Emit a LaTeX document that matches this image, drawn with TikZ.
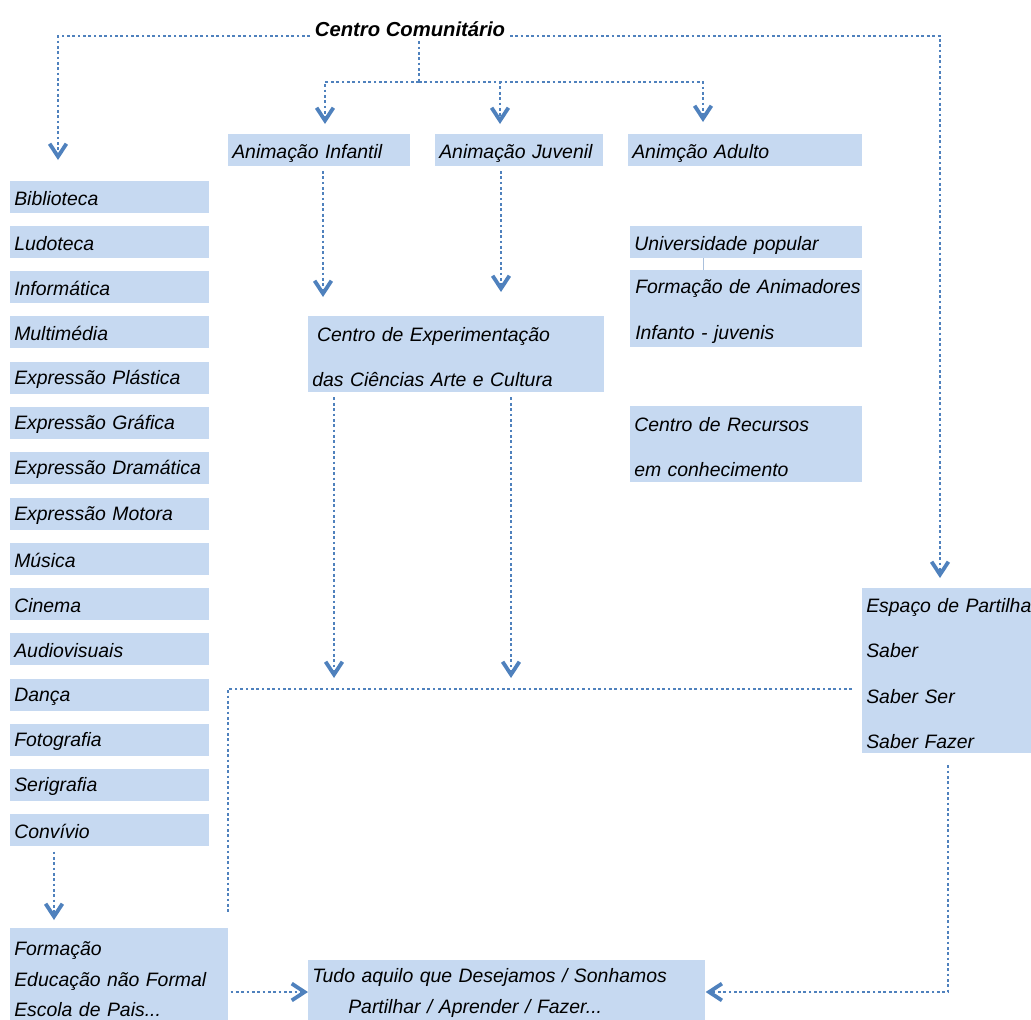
\documentclass[tikz,border=0pt]{standalone}
\usepackage{fontspec}
\setmainfont{Liberation Sans}
\usepackage{tikz}
\usetikzlibrary{arrows.meta}
\definecolor{boxfill}{RGB}{198,217,241}
\definecolor{arrowcol}{RGB}{79,129,189}
\definecolor{boxline}{RGB}{170,192,220}

\begin{document}
\begin{tikzpicture}[
  x=0.025cm, y=-0.025cm,
  font=\itshape\fontsize{13.8}{16.5}\selectfont,
  box/.style={fill=boxfill, anchor=west, align=left, inner xsep=0.1cm, inner ysep=0pt, text height=14.5pt},
  col/.style={box, text width=4.775cm, minimum height=0.8cm, text height=12.2pt},
  wide/.style={font=\itshape\fontsize{13.8}{32.4}\selectfont},
  narrow/.style={font=\itshape\fontsize{13.8}{22}\selectfont, text height=11.5pt},
  dots/.style={line width=1.8pt, color=arrowcol, dash pattern=on 1.9pt off 1.9pt},
  arr/.style={dots, -{Straight Barb[length=0.32cm, width=0.42cm, line width=2.7pt]}},
  gap/.style={shorten <=0.13cm}
]
\useasboundingbox (0,0) rectangle (1031,1019);
\clip (0,0) rectangle (1031,1019);

\node[font=\bfseries\itshape\fontsize{14.4}{17}\selectfont, anchor=base] (cc) at (410,36) {Centro Comunitário};

% coluna das actividades
\node[col] (bib)   at (10,197) {Biblioteca};
\node[col] (ludo)  at (10,242) {Ludoteca};
\node[col] (info)  at (10,287) {Informática};
\node[col] (multi) at (10,332) {Multimédia};
\node[col] (plast) at (10,378) {Expressão Plástica};
\node[col] (graf)  at (10,423) {Expressão Gráfica};
\node[col] (dram)  at (10,468) {Expressão Dramática};
\node[col] (motor) at (10,514) {Expressão Motora};
\node[col] (mus)   at (10,559) {Música};
\node[col] (cine)  at (10,604) {Cinema};
\node[col] (audio) at (10,649) {Audiovisuais};
\node[col] (danca) at (10,695) {Dança};
\node[col] (foto)  at (10,740) {Fotografia};
\node[col] (seri)  at (10,785) {Serigrafia};
\node[col] (conv)  at (10,830) {Convívio};

\node[box, text width=4.35cm, minimum height=0.78cm] (ainf) at (228,150) {Animação Infantil};
\node[box, text width=4cm,    minimum height=0.78cm] (ajuv) at (435,150) {Animação Juvenil};
\node[box, text width=5.65cm, minimum height=0.78cm] (aadu) at (628,150) {Animção Adulto};

\node[box, text width=5.6cm, minimum height=0.8cm] (univ) at (630,242) {Universidade popular};
\node[box, wide, inner xsep=0.025cm, text width=5.75cm, minimum height=1.925cm] (fanim) at (630,308.5) {\hspace*{0.1cm}Formação de Animadores\\\hspace*{0.1cm}Infanto - juvenis};
\node[box, wide, text width=5.6cm, minimum height=1.9cm] (crec) at (630,444) {Centro de Recursos\\em conhecimento};
\node[box, wide, text width=7.2cm, minimum height=1.9cm] (cea) at (308,354) {\hspace*{0.12cm}Centro de Experimentação\\das Ciências Arte e Cultura};
\node[box, wide, text width=5cm, minimum height=4.125cm] (esp) at (862,670.5) {Espaço de Partilha:\\Saber\\Saber Ser\\Saber Fazer};
\node[box, narrow, text width=5.25cm, minimum height=2.5cm] (form) at (10,978) {Formação\\Educação não Formal\\Escola de Pais...};
\node[box, narrow, text width=9.725cm, minimum height=1.625cm] (tudo) at (308,992) {Tudo aquilo que Desejamos / Sonhamos\\\hspace*{0.9cm}Partilhar / Aprender / Fazer...};

\coordinate (bibtip)    at (58,160);
\coordinate (esptip)    at (940,578);
\coordinate (fork)      at (419,82);
\coordinate (inftip)    at (325,124);
\coordinate (juvtip)    at (500,124);
\coordinate (adtip)     at (703,122);
\coordinate (cea1)      at (323,297);
\coordinate (cea2)      at (501,292);
\coordinate (low1)      at (334,678);
\coordinate (low2)      at (511,678);
\coordinate (corner)    at (228,689);
\coordinate (cornerend) at (228,912);
\coordinate (formtip)   at (54,920);
\coordinate (espturn)   at (948,992);

\draw[arr] (cc.base west) -| (bibtip);
\draw[arr] (cc.base east) -| (esptip);
\draw[dots] (cc.south -| fork) -- (fork);
\draw[arr] (fork) -| (inftip);
\draw[arr] (fork) -| (juvtip);
\draw[arr] (fork) -| (adtip);
\draw[arr, gap] (ainf.south -| cea1) -- (cea1);
\draw[arr, gap] (ajuv.south -| cea2) -- (cea2);
\draw[arr, gap] (cea.south -| low1) -- (low1);
\draw[arr, gap] (cea.south -| low2) -- (low2);
\draw[dots, shorten <=0.25cm] (esp.west |- corner) -- (corner) -- (cornerend);
\draw[arr, gap] (conv.south -| formtip) -- (formtip);
\draw[arr, shorten <=0.05cm] (form.east |- tudo.west) -- (tudo.west);
\draw[arr, shorten <=0.3cm] (esp.south -| espturn) -- (espturn) -- (tudo.east |- espturn);
\draw[boxline, line width=0.6pt] (univ.south -| adtip) -- (fanim.north -| adtip);

\end{tikzpicture}
\end{document}
